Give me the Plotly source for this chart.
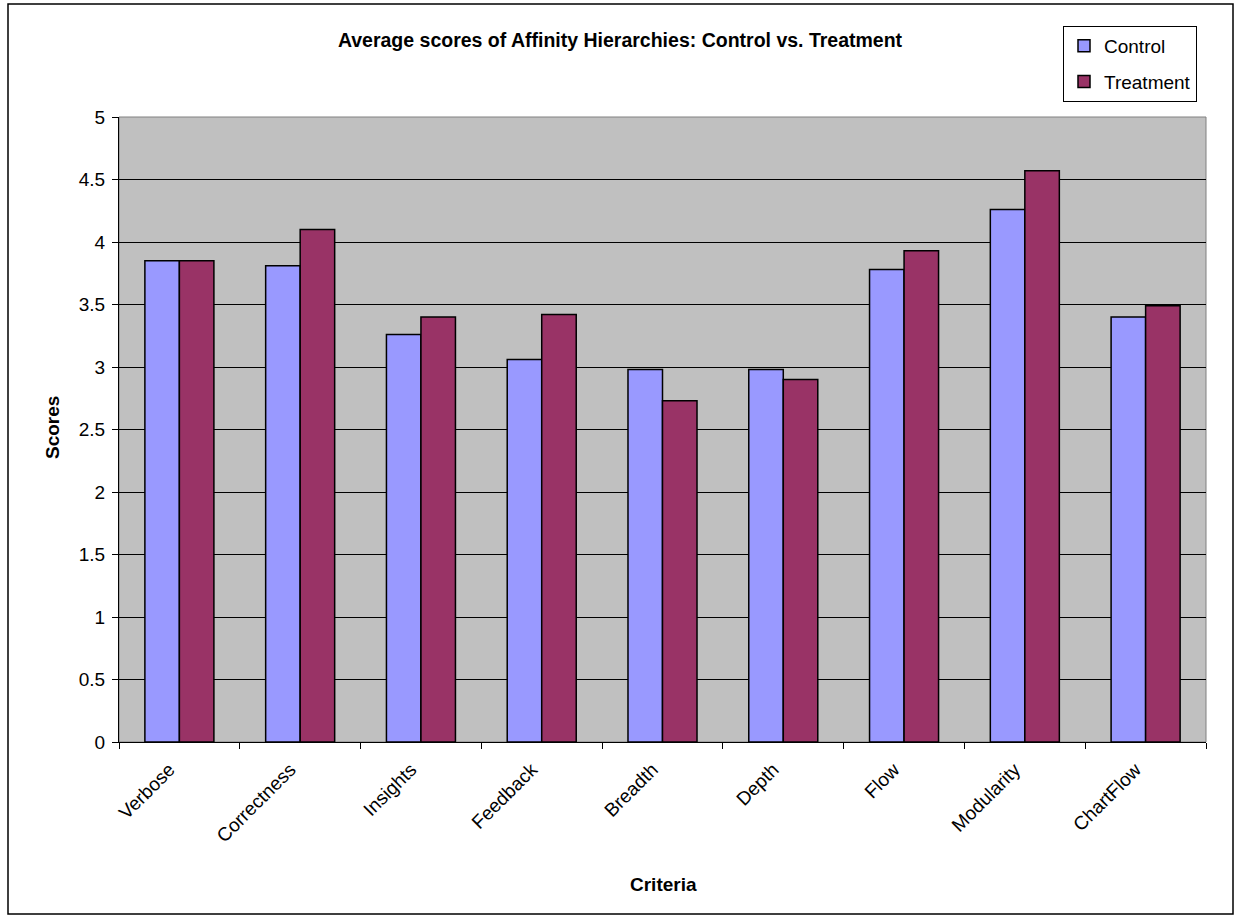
import plotly.graph_objects as go

# Criteria and average scores per group
criteria = ["Verbose", "Correctness", "Insights", "Feedback", "Breadth",
            "Depth", "Flow", "Modularity", "ChartFlow"]
control = [3.85, 3.81, 3.26, 3.06, 2.98, 2.98, 3.78, 4.26, 3.40]
treatment = [3.85, 4.10, 3.40, 3.42, 2.73, 2.90, 3.93, 4.57, 3.49]
y_ticks = [0, 0.5, 1, 1.5, 2, 2.5, 3, 3.5, 4, 4.5, 5]
y_tick_text = ["0", "0.5", "1", "1.5", "2", "2.5", "3", "3.5", "4", "4.5", "5"]

FONT = "Liberation Sans, Arial, sans-serif"
FS = 19

fig = go.Figure()
fig.add_trace(go.Bar(
    name="Control", x=criteria, y=control, legendgroup="c",
    marker=dict(color="#9999FF", line=dict(color="black", width=1.5)),
))
fig.add_trace(go.Bar(
    name="Treatment", x=criteria, y=treatment, legendgroup="t",
    marker=dict(color="#993366", line=dict(color="black", width=1.5)),
))

W, H = 1235, 919
ml, mr, mt, mb = 119, 29, 117, 177
pw, ph = W - ml - mr, H - mt - mb

def px_x(x):
    return (x - ml) / pw

def px_y(y):
    return (H - mb - y) / ph

fig.update_layout(
    width=W, height=H,
    margin=dict(l=ml, r=mr, t=mt, b=mb, pad=0),
    paper_bgcolor="white",
    plot_bgcolor="#C0C0C0",
    barmode="group",
    bargap=0.4286,
    bargroupgap=0,
    font=dict(family=FONT, color="black", size=FS),
    title=dict(
        text="<b>Average scores of Affinity Hierarchies: Control vs. Treatment</b>",
        x=px_x(620), xref="paper", xanchor="center",
        y=1 - 40 / H, yanchor="middle",
        font=dict(family=FONT, size=19.5, color="black"),
    ),
    legend=dict(
        x=px_x(1063), y=px_y(26), xref="paper", yref="paper",
        xanchor="left", yanchor="top",
        bgcolor="white", bordercolor="black", borderwidth=1,
        font=dict(family=FONT, size=FS),
        tracegroupgap=8,
        itemwidth=30,
    ),
    showlegend=True,
    xaxis=dict(
        showline=True, linecolor="black", linewidth=1,
        ticks="outside", tickson="boundaries", ticklen=6, tickcolor="black",
        tickangle=-45, tickfont=dict(size=FS),
        ticklabelstandoff=8, ticklabelshift=-10,
        showgrid=False,
    ),
    yaxis=dict(
        range=[0, 5], tickvals=y_ticks, ticktext=y_tick_text,
        showline=True, linecolor="black", linewidth=1,
        ticks="outside", ticklen=6, tickcolor="black",
        showgrid=True, gridcolor="black", gridwidth=1,
        zeroline=False,
        tickfont=dict(size=FS),
        ticklabelstandoff=3,
    ),
    annotations=[
        dict(text="<b>Scores</b>", xref="paper", yref="paper",
             x=px_x(52), y=px_y(428), textangle=-90, showarrow=False,
             xanchor="center", yanchor="middle", font=dict(size=FS)),
        dict(text="<b>Criteria</b>", xref="paper", yref="paper",
             x=px_x(663), y=px_y(884), showarrow=False,
             xanchor="center", yanchor="middle", font=dict(size=FS)),
    ],
    shapes=[
        # plot area frame
        dict(type="rect", xref="x domain", yref="y domain",
             x0=0, x1=1, y0=0, y1=1, line=dict(color="#808080", width=1),
             layer="below"),
        # outer chart border
        dict(type="rect", xref="paper", yref="paper",
             x0=px_x(8), x1=px_x(1233), y0=px_y(914), y1=px_y(4),
             line=dict(color="black", width=1.5)),
    ],
)

fig.write_html("out.html")
